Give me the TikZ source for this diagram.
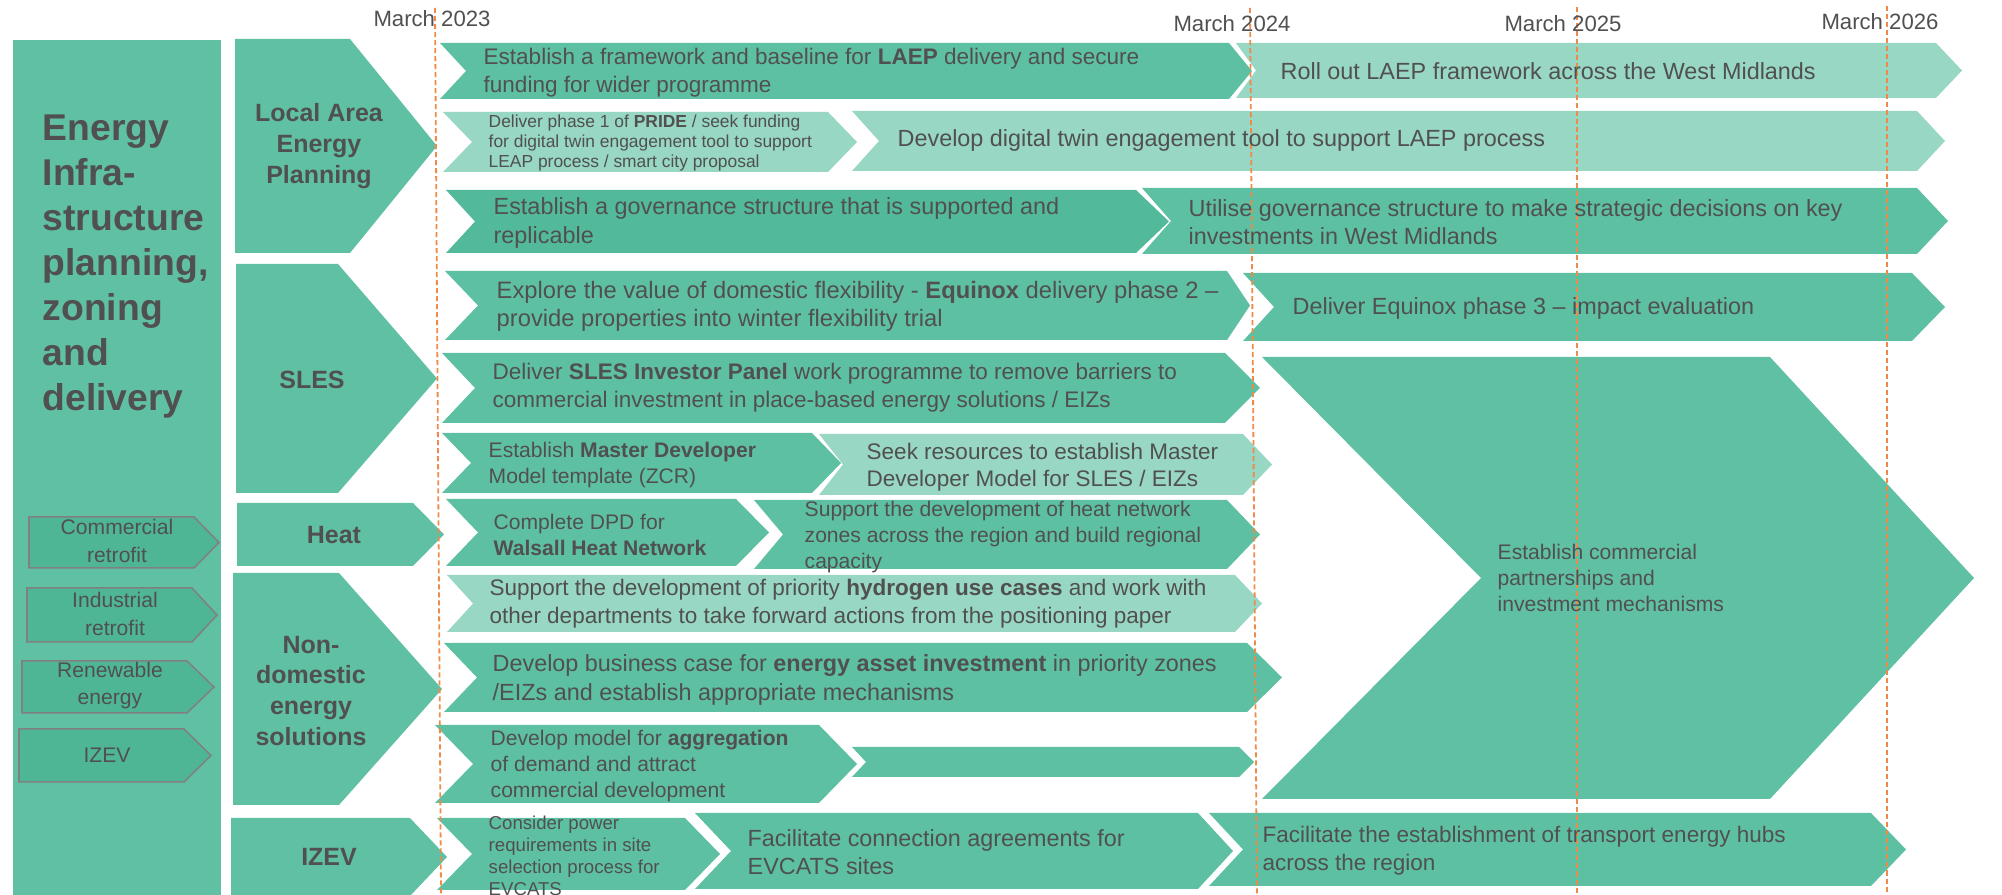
\documentclass[tikz,border=0pt]{standalone}
\usepackage{fontspec}
\setmainfont{Liberation Sans}
\usetikzlibrary{positioning}

\definecolor{boxgreen}{HTML}{60C0A3}
\definecolor{rowgreen}{HTML}{5EC0A2}
\definecolor{darkgreen}{HTML}{52B99A}
\definecolor{lightgreen}{HTML}{98D7C3}
\definecolor{subgreen}{HTML}{4EB695}
\definecolor{subline}{HTML}{808080}
\definecolor{txtgrey}{HTML}{505050}
\definecolor{dateline}{HTML}{EE8A4A}

% chevron: [style]{x left}{x right}{y top}{y bottom}{notch}{tip}
\newcommand{\chev}[7][rowbar]{%
  \pgfmathsetmacro{\ymid}{(#4+#5)/2}%
  \path[#1] (#2,#4) -- (#3,#4) -- (#3+#7,\ymid) -- (#3,#5) -- (#2,#5) -- (#2+#6,\ymid) -- cycle;}

\begin{document}
\begin{tikzpicture}[x=0.01cm,y=-0.01cm,
  rowbar/.style={fill=rowgreen},
  darkbar/.style={fill=darkgreen},
  lightbar/.style={fill=lightgreen},
  catbar/.style={fill=boxgreen},
  subbar/.style={fill=subgreen,draw=subline,line width=0.015cm},
  rowtxt/.style={anchor=west,align=left,inner sep=0pt,text=txtgrey,font=\fontsize{6.65pt}{8pt}\selectfont},
  rowbold/.style={rowtxt,font=\fontsize{6.4pt}{8pt}\selectfont},
  rowsmall/.style={rowtxt,font=\fontsize{6pt}{7.3pt}\selectfont},
  rowtiny/.style={rowtxt,font=\fontsize{4.95pt}{5.6pt}\selectfont},
  rowcons/.style={rowtxt,font=\fontsize{5.3pt}{6.3pt}\selectfont},
  cattxt/.style={align=center,inner sep=0pt,text=txtgrey,font=\fontsize{7.1pt}{8.8pt}\selectfont\bfseries},
  subtxt/.style={align=center,inner sep=0pt,text=txtgrey,font=\fontsize{6pt}{7.7pt}\selectfont},
  month/.style={inner sep=0pt,text=txtgrey,font=\fontsize{6.3pt}{7.5pt}\selectfont},
  datemark/.style={draw=dateline,line width=0.018cm,dash pattern=on 0.05cm off 0.03cm}]
\useasboundingbox (0,0) rectangle (2002,895);

% left column
\fill[boxgreen] (13,40) rectangle (221,895);
\chev[subbar]{29}{194}{517}{568}{0}{25}
\chev[subbar]{27}{192}{588}{642}{0}{25}
\chev[subbar]{22}{187}{661}{713}{0}{27}
\chev[subbar]{19}{184}{729}{782}{0}{27}

% themes
\chev[catbar]{235}{350}{39}{253}{0}{87}
\chev[catbar]{236}{338}{264}{493}{0}{99}
\chev[catbar]{237}{413}{503}{566}{0}{31}
\chev[catbar]{233}{339}{573}{805}{0}{103}
\chev[catbar]{231}{410}{818}{896}{0}{37}

% actions
\chev[rowbar]{440}{1229}{43}{99}{26}{23}
\chev[lightbar]{1236}{1936}{43}{98}{20}{26}
\chev[lightbar]{443}{828}{112}{172}{29}{29}
\chev[lightbar]{852}{1917}{111}{171}{27}{28}
\chev[darkbar]{446}{1136}{190}{253}{29}{33}
\chev[rowbar]{1142}{1917}{188}{254}{29}{31}
\chev[rowbar]{445}{1227}{271}{340}{33}{23}
\chev[rowbar]{1243}{1912}{273}{341}{31}{33}
\chev[rowbar]{442}{1225}{353}{423}{33}{35}
\chev[rowbar]{442}{812}{433}{493}{29}{29}
\chev[lightbar]{819}{1243}{434}{495}{24}{29}
\chev[rowbar]{446}{736}{499}{566}{32}{33}
\chev[rowbar]{754}{1227}{500}{569}{29}{33}
\chev[lightbar]{447}{1235}{575}{632}{26}{27}
\chev[rowbar]{444}{1247}{643}{712}{33}{35}
\chev[rowbar]{435}{819}{725}{803}{38}{38}
\chev[rowbar]{852}{1239}{747}{777}{14}{15}
\chev[rowbar]{437}{685}{818}{890}{35}{35}
\chev[rowbar]{695}{1198}{813}{889}{36}{35}
\chev[rowbar]{1209}{1871}{813}{886}{34}{35}
\chev[catbar]{1262}{1770}{357}{799}{219}{204}

% milestones
\draw[datemark] (435,8) -- (441,895);
\draw[datemark] (1250,8) -- (1257,895);
\draw[datemark] (1577,7) -- (1577,895);
\draw[datemark] (1887,6) -- (1887,895);
\node[month] (m23) at (432,19) {March 2023};
\node[month] (m24) at (1232,24) {March 2024};
\node[month] (m25) at (1563,24) {March 2025};
\node[month] (m26) at (1880,22) {March 2026};

\node[anchor=west,align=left,inner sep=0pt,text=txtgrey,font=\fontsize{10.6pt}{12.8pt}\selectfont\bfseries] (title) at (42,267) {Energy\\Infra-\\structure\\planning,\\zoning\\and\\delivery};
\node[subtxt] (s-comm) at (117,541) {Commercial\\retrofit};
\node[subtxt] (s-ind) at (115,614) {Industrial\\retrofit};
\node[subtxt] (s-ren) at (110,686) {Renewable\\energy};
\node[subtxt] (s-izev) at (107,755) {IZEV};

\node[cattxt] (c-laep) at (319,146) {Local Area\\Energy\\Planning};
\node[cattxt] (c-sles) at (312,380) {SLES};
\node[cattxt] (c-heat) at (334,535) {Heat};
\node[cattxt] (c-nondom) at (311,691) {Non-\\domestic\\energy\\solutions};
\node[cattxt] (c-izev) at (329,857) {IZEV};

\node[rowbold] (r1a) at (483,73) {Establish a framework and baseline for \textbf{LAEP} delivery and secure\\funding for wider programme};
\node[rowtxt] (r1b) at (1280,71) {Roll out LAEP framework across the West Midlands};
\node[rowtiny] (r2a) at (488,143) {Deliver phase 1 of \textbf{PRIDE} / seek funding\\for digital twin engagement tool to support\\LEAP process / smart city proposal};
\node[rowtxt] (r2b) at (897,140) {Develop digital twin engagement tool to support LAEP process};
\node[rowtxt] (r3a) at (493,223) {Establish a governance structure that is supported and\\replicable};
\node[rowtxt] (r3b) at (1188,222) {Utilise governance structure to make strategic decisions on key\\investments in West Midlands};
\node[rowtxt,font=\fontsize{6.75pt}{8pt}\selectfont] (r4a) at (496,306) {Explore the value of domestic flexibility - \textbf{Equinox} delivery phase 2 --\\provide properties into winter flexibility trial};
\node[rowtxt] (r4b) at (1292,308) {Deliver Equinox phase 3 -- impact evaluation};
\node[rowbold] (r5) at (492,388) {Deliver \textbf{SLES Investor Panel} work programme to remove barriers to\\commercial investment in place-based energy solutions / EIZs};
\node[rowsmall] (r6a) at (488,465) {Establish \textbf{Master Developer}\\Model template (ZCR)};
\node[rowtxt,font=\fontsize{6.4pt}{7.7pt}\selectfont] (r6b) at (866,467) {Seek resources to establish Master\\Developer Model for SLES / EIZs};
\node[rowsmall] (r7a) at (493,535) {Complete DPD for\\\textbf{Walsall Heat Network}};
\node[rowsmall] (r7b) at (804,537) {Support the development of heat network\\zones across the region and build regional\\capacity};
\node[rowbold] (r8) at (489,604) {Support the development of priority \textbf{hydrogen use cases} and work with\\other departments to take forward actions from the positioning paper};
\node[rowtxt] (r9) at (492,680) {Develop business case for \textbf{energy asset investment} in priority zones\\/EIZs and establish appropriate mechanisms};
\node[rowsmall] (r10a) at (490,766) {Develop model for \textbf{aggregation}\\of demand and attract\\commercial development};
\node[rowcons] (r11a) at (488,856) {Consider power\\requirements in site\\selection process for\\EVCATS};
\node[rowtxt] (r11b) at (747,852) {Facilitate connection agreements for\\EVCATS sites};
\node[rowbold] (r11c) at (1262,851) {Facilitate the establishment of transport energy hubs\\across the region};
\node[rowsmall] (big) at (1497,578) {Establish commercial\\partnerships and\\investment mechanisms};
\end{tikzpicture}
\end{document}
